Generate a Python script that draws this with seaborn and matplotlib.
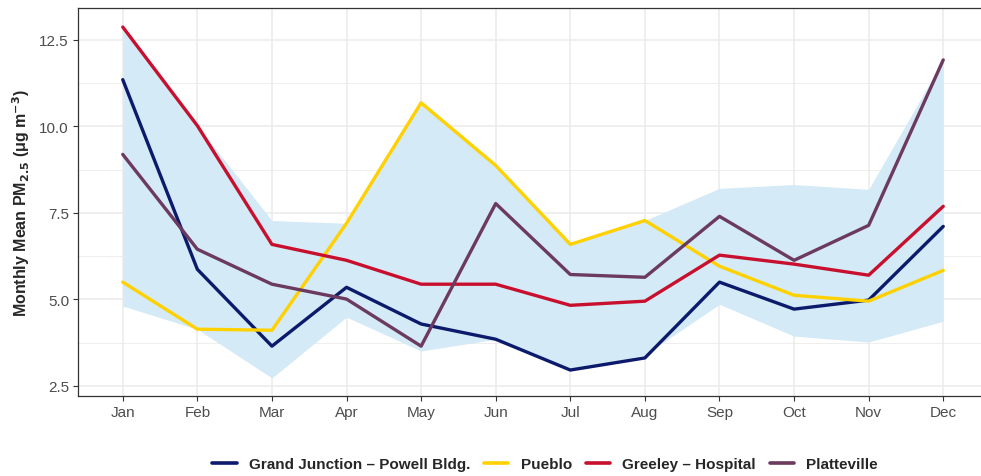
import numpy as np
import pandas as pd
import matplotlib
matplotlib.use("Agg")
import matplotlib.pyplot as plt
import seaborn as sns

months = ["Jan", "Feb", "Mar", "Apr", "May", "Jun",
          "Jul", "Aug", "Sep", "Oct", "Nov", "Dec"]

grand_junction = [11.35, 5.87, 3.65, 5.35, 4.29, 3.85, 2.96, 3.31, 5.50, 4.72, 4.98, 7.11]
pueblo = [5.50, 4.14, 4.11, 7.20, 10.68, 8.87, 6.59, 7.28, 5.96, 5.12, 4.95, 5.84]
greeley = [12.87, 10.02, 6.59, 6.13, 5.44, 5.44, 4.83, 4.95, 6.28, 6.02, 5.70, 7.69]
platteville = [9.19, 6.45, 5.44, 5.01, 3.65, 7.77, 5.72, 5.64, 7.40, 6.13, 7.14, 11.92]

# spread of all sites (shaded band)
band_upper = [12.87, 10.02, 7.28, 7.20, 10.68, 8.87, 6.60, 7.28, 8.21, 8.32, 8.18, 11.92]
band_lower = [4.81, 4.14, 2.73, 4.49, 3.51, 3.85, 2.95, 3.40, 4.86, 3.94, 3.77, 4.37]

sites = ["Grand Junction \u2013 Powell Bldg.", "Pueblo", "Greeley \u2013 Hospital", "Platteville"]
colors = ["#0b1a6b", "#ffd100", "#c8102e", "#6b3a5e"]

df = pd.DataFrame({
    "month": np.tile(np.arange(12), 4),
    "pm": grand_junction + pueblo + greeley + platteville,
    "site": np.repeat(sites, 12),
})

sns.set_theme(style="whitegrid")
plt.rcParams["font.family"] = ["Liberation Sans", "DejaVu Sans"]
plt.rcParams["mathtext.default"] = "bf"

fig = plt.figure(figsize=(9.81, 4.77), dpi=100)
# panel runs past the right edge of the image, like the reference
ax = fig.add_axes([78 / 981, 1 - 397 / 477, 910 / 981, 388 / 477])

ax.fill_between(np.arange(12), band_lower, band_upper, color="#d4eaf6", lw=0, zorder=1)

sns.lineplot(data=df, x="month", y="pm", hue="site", palette=colors,
             linewidth=2.4, ax=ax, zorder=3, legend=True)

ax.set_xlim(-0.6, 11.6)
ax.set_ylim(2.21, 13.42)
ax.set_xticks(np.arange(12))
ax.set_xticklabels(months)
ax.set_yticks([2.5, 5.0, 7.5, 10.0, 12.5])
ax.set_yticklabels(["2.5", "5.0", "7.5", "10.0", "12.5"])
ax.set_yticks([3.75, 6.25, 8.75, 11.25], minor=True)

ax.set_facecolor("white")
ax.grid(True, which="major", color="#ebebeb", linewidth=1.1)
ax.grid(True, which="minor", axis="y", color="#ebebeb", linewidth=0.6)
ax.set_axisbelow(True)
for s in ax.spines.values():
    s.set_visible(True)
    s.set_color("#333333")
    s.set_linewidth(0.9)

ax.tick_params(axis="both", which="major", length=3.5, width=0.8, color="#333333",
               labelsize=11, labelcolor="#4d4d4d", pad=3, bottom=True, left=True)
ax.tick_params(axis="both", which="minor", length=0)

ax.set_xlabel("")
ax.set_ylabel("Monthly Mean PM$_{2.5}$ (\u03bcg m$^{-3}$)", fontsize=11.5,
              fontweight="bold", labelpad=5)

handles, labels = ax.get_legend_handles_labels()
ax.get_legend().remove()
leg = fig.legend(handles, labels, loc="center", bbox_to_anchor=(545 / 981, 1 - 465 / 477),
                 ncol=4, frameon=False, handlelength=1.6, columnspacing=0.9,
                 handletextpad=0.8, prop={"weight": "bold", "size": 11})
for line in leg.get_lines():
    line.set_linewidth(2.6)

fig.savefig("out.png", dpi=100)
